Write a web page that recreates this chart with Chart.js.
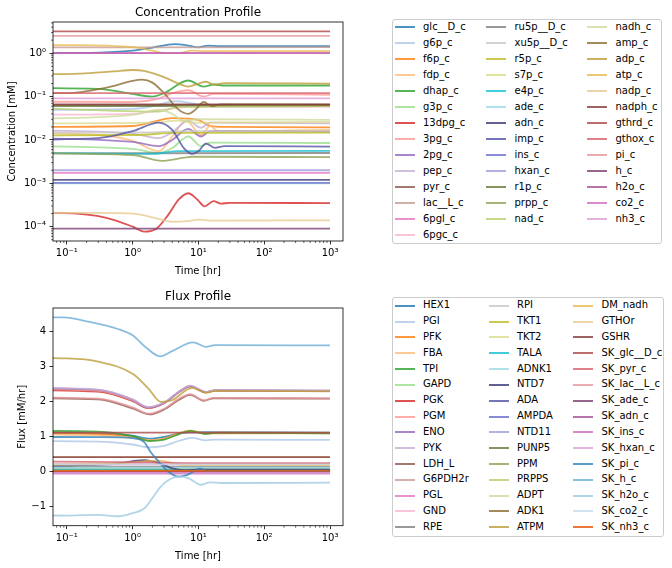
<!DOCTYPE html>
<html>
<head>
<meta charset="utf-8">
<script src="https://cdn.jsdelivr.net/npm/chart.js@4.4.1/dist/chart.umd.min.js"></script>
<style>
  body { margin: 0; background: #fff; font-family: 'DejaVu Sans', sans-serif; }
  #wrap { position: relative; width: 672px; height: 568px; overflow: hidden; }
  #wrap canvas { position: absolute; left: 0; }
  .legend { position: absolute; border: 1px solid #cccccc; border-radius: 3px; box-sizing: border-box; background: #fff; }
  .legend .h { position: absolute; width: 20px; height: 2px; }
  .legend .t { position: absolute; font-size: 10px; line-height: 12px; white-space: nowrap; color: #000; }
</style>
</head>
<body>
<div id="wrap">
  <canvas id="conc" width="350" height="285" style="top:0"></canvas>
  <canvas id="flux" width="350" height="283" style="top:285px"></canvas>
  <div id="concLegend" class="legend" style="left:392px;top:19px;width:270px;height:225px"></div>
  <div id="fluxLegend" class="legend" style="left:392px;top:297px;width:272px;height:240px"></div>
</div>
<script>
// time axis ticks (hours)
const timeTicks = [0.1, 1, 10, 100, 1000];
const timeTickLabels = ['10⁻¹', '10⁰', '10¹', '10²', '10³'];
const concTicks = [1e-4, 1e-3, 1e-2, 1e-1, 1];
const concTickLabels = ['10⁻⁴', '10⁻³', '10⁻²', '10⁻¹', '10⁰'];
const fluxTicks = [-1, 0, 1, 2, 3, 4];
const fluxTickLabels = ['−1', '0', '1', '2', '3', '4'];

// concentration profile, [time, mM]
const concNames = ['glc__D_c', 'g6p_c', 'f6p_c', 'fdp_c', 'dhap_c', 'g3p_c', '13dpg_c', '3pg_c', '2pg_c', 'pep_c',
  'pyr_c', 'lac__L_c', '6pgl_c', '6pgc_c', 'ru5p__D_c', 'xu5p__D_c', 'r5p_c', 's7p_c', 'e4p_c', 'ade_c',
  'adn_c', 'imp_c', 'ins_c', 'hxan_c', 'r1p_c', 'prpp_c', 'nad_c', 'nadh_c', 'amp_c', 'adp_c',
  'atp_c', 'nadp_c', 'nadph_c', 'gthrd_c', 'gthox_c', 'pi_c', 'h_c', 'h2o_c', 'co2_c', 'nh3_c'];
const concValues = [
  [[0.01,1.0],[0.1,1.0],[0.3,1.03],[1,1.15],[2,1.35],[4.3,1.62],[7,1.5],[10,1.37],[14,1.5],[20,1.45],[1000,1.45]],
  [[0.01,0.049],[1,0.052],[2,0.06],[4.5,0.078],[8,0.07],[12,0.063],[1000,0.064]],
  [[0.01,0.0198],[1,0.021],[2,0.026],[4,0.032],[7,0.031],[10,0.029],[14,0.022],[20,0.02],[1000,0.0195]],
  [[0.01,0.0146],[0.3,0.013],[1,0.0095],[2.5,0.0055],[4,0.012],[6.5,0.028],[11,0.013],[15,0.021],[20,0.016],[1000,0.017]],
  [[0.01,0.16],[0.3,0.15],[1,0.115],[2,0.1],[3,0.12],[7,0.235],[12,0.17],[17,0.19],[25,0.18],[1000,0.18]],
  [[0.01,0.0073],[1,0.0062],[2.5,0.005],[4,0.0065],[7,0.012],[11,0.0072],[15,0.0087],[1000,0.0085]],
  [[0.01,2.1e-4],[0.1,2.05e-4],[0.4,1.6e-4],[1,1.0e-4],[1.5,7.7e-5],[2.3,9e-5],[3.5,1.9e-4],[5,4.2e-4],[7,5.9e-4],[9.5,4.3e-4],[12.5,2.95e-4],[17,3.9e-4],[22,3.4e-4],[30,3.55e-4],[1000,3.5e-4]],
  [[0.01,0.077],[1,0.075],[2.5,0.09],[4,0.12],[7,0.14],[12,0.1],[17,0.115],[1000,0.11]],
  [[0.01,0.0113],[1,0.009],[2.5,0.0072],[4,0.01],[7,0.018],[11,0.012],[15,0.016],[1000,0.0155]],
  [[0.01,0.017],[1,0.014],[2.5,0.011],[4,0.015],[7,0.028],[11,0.019],[15,0.025],[1000,0.024]],
  [[0.01,0.063],[1000,0.065]],
  [[0.01,1.36],[1000,1.38]],
  [[0.01,0.00175],[1000,0.00175]],
  [[0.01,0.038],[1,0.04],[3,0.05],[7,0.058],[1000,0.058]],
  [[0.01,0.0049],[1000,0.005]],
  [[0.01,0.0148],[2,0.015],[6,0.016],[1000,0.016]],
  [[0.01,0.0127],[1,0.013],[5,0.0145],[1000,0.0147]],
  [[0.01,0.024],[2,0.025],[5,0.028],[8,0.025],[1000,0.026]],
  [[0.01,0.0051],[2,0.0048],[5,0.0055],[1000,0.0056]],
  [[0.01,0.001],[1000,0.001]],
  [[0.01,0.0012],[1000,0.0012]],
  [[0.01,0.01],[0.3,0.011],[1,0.016],[2.5,0.025],[4,0.017],[6,0.0065],[8,0.0048],[10,0.0055],[13,0.0082],[18,0.0066],[25,0.0072],[1000,0.007]],
  [[0.01,0.00102],[1000,0.00102]],
  [[0.01,0.002],[1000,0.002]],
  [[0.01,0.06],[1000,0.061]],
  [[0.01,0.005],[1,0.0045],[2.8,0.0033],[6,0.0039],[8,0.0041],[1000,0.004]],
  [[0.01,0.059],[2.5,0.045],[5,0.058],[1000,0.06]],
  [[0.01,0.03],[1,0.038],[2.5,0.05],[4,0.04],[6,0.028],[10,0.03],[1000,0.029]],
  [[0.01,0.12],[0.1,0.12],[0.4,0.16],[1,0.23],[1.4,0.245],[2,0.21],[3,0.12],[5,0.05],[7,0.04],[9,0.05],[12,0.075],[16,0.06],[22,0.066],[1000,0.064]],
  [[0.01,0.33],[0.1,0.33],[0.5,0.38],[1,0.41],[1.5,0.39],[3,0.28],[5,0.2],[7,0.17],[10,0.2],[13,0.22],[17,0.19],[25,0.205],[1000,0.2]],
  [[0.01,1.55],[0.1,1.54],[1,1.38],[2,1.15],[3,1.02],[5,1.0],[8,1.15],[12,1.12],[1000,1.12]],
  [[0.01,2.1e-4],[0.3,2.08e-4],[1,2.0e-4],[2,1.65e-4],[4,1.3e-4],[7,1.35e-4],[10,1.45e-4],[15,1.38e-4],[1000,1.4e-4]],
  [[0.01,0.066],[1000,0.066]],
  [[0.01,3.2],[1000,3.2]],
  [[0.01,0.12],[1000,0.12]],
  [[0.01,2.5],[1000,2.5]],
  [[0.01,9e-5],[1000,9e-5]],
  [[0.01,1.0],[1000,1.0]],
  [[0.01,1.0],[1000,1.0]],
  [[0.01,0.091],[1000,0.091]]
];

// flux profile, [time, mM/hr]
const fluxNames = ['HEX1', 'PGI', 'PFK', 'FBA', 'TPI', 'GAPD', 'PGK', 'PGM', 'ENO', 'PYK',
  'LDH_L', 'G6PDH2r', 'PGL', 'GND', 'RPE', 'RPI', 'TKT1', 'TKT2', 'TALA', 'ADNK1',
  'NTD7', 'ADA', 'AMPDA', 'NTD11', 'PUNP5', 'PPM', 'PRPPS', 'ADPT', 'ADK1', 'ATPM',
  'DM_nadh', 'GTHOr', 'GSHR', 'SK_glc__D_c', 'SK_pyr_c', 'SK_lac__L_c', 'SK_ade_c', 'SK_adn_c', 'SK_ins_c', 'SK_hxan_c',
  'SK_pi_c', 'SK_h_c', 'SK_h2o_c', 'SK_co2_c', 'SK_nh3_c'];
const fluxValues = [
  [[0.01,1.12],[0.3,1.1],[1,1.03],[1.8,0.95],[3,1.0],[7,1.13],[1000,1.12]],
  [[0.01,0.88],[0.3,0.86],[1,0.78],[1.8,0.7],[3,0.74],[5,0.88],[8,0.97],[13,0.9],[18,0.92],[1000,0.91]],
  [[0.01,1.1],[0.3,1.08],[1,1.0],[1.8,0.9],[3,0.95],[5,1.1],[7.5,1.17],[13,1.1],[18,1.12],[1000,1.11]],
  [[0.01,1.08],[1,0.98],[1.8,0.9],[3,0.93],[5,1.08],[7.5,1.18],[13,1.09],[1000,1.1]],
  [[0.01,1.17],[0.3,1.15],[1,1.02],[1.8,0.88],[3,0.92],[5,1.07],[7.5,1.17],[13,1.08],[18,1.11],[1000,1.1]],
  [[0.01,2.35],[0.3,2.3],[1,2.03],[1.7,1.82],[3,1.96],[5,2.27],[7.5,2.44],[13,2.27],[18,2.32],[1000,2.31]],
  [[0.01,2.34],[0.3,2.29],[1,2.02],[1.7,1.82],[3,1.96],[5,2.27],[7.5,2.44],[13,2.27],[18,2.32],[1000,2.31]],
  [[0.01,2.37],[0.3,2.31],[1,2.04],[1.7,1.83],[3,1.96],[5,2.27],[7.5,2.44],[13,2.27],[18,2.32],[1000,2.31]],
  [[0.01,2.4],[0.3,2.34],[1,2.06],[1.7,1.84],[3,1.97],[5,2.28],[7.5,2.45],[13,2.28],[18,2.33],[1000,2.32]],
  [[0.01,2.41],[0.3,2.35],[1,2.07],[1.7,1.85],[3,1.98],[5,2.29],[7.5,2.46],[13,2.28],[18,2.33],[1000,2.32]],
  [[0.01,2.11],[0.3,2.07],[1,1.81],[1.8,1.64],[3,1.78],[5,2.05],[7.5,2.2],[12,2.03],[17,2.1],[1000,2.09]],
  [[0.01,0.21],[1000,0.21]],
  [[0.01,0.21],[1000,0.21]],
  [[0.01,0.21],[1000,0.21]],
  [[0.01,0.14],[1000,0.14]],
  [[0.01,0.07],[1000,0.07]],
  [[0.01,0.07],[1000,0.07]],
  [[0.01,0.07],[1000,0.07]],
  [[0.01,0.07],[1000,0.07]],
  [[0.01,0.12],[1000,0.12]],
  [[0.01,0.17],[0.5,0.22],[1.5,0.33],[2.5,0.25],[4,0.1],[6,0.05],[10,0.06],[1000,0.06]],
  [[0.01,0.01],[1000,0.01]],
  [[0.01,0.014],[1000,0.014]],
  [[0.01,0.014],[1000,0.014]],
  [[0.01,0.014],[1000,0.014]],
  [[0.01,0.014],[1000,0.014]],
  [[0.01,0.014],[1000,0.014]],
  [[0.01,0.014],[1000,0.014]],
  [[0.01,0.0],[1000,0.0]],
  [[0.01,3.26],[0.1,3.24],[0.3,3.15],[1,2.8],[1.7,2.4],[2.7,2.0],[4,2.05],[8,2.4],[13,2.26],[18,2.31],[1000,2.3]],
  [[0.01,0.2],[0.5,0.23],[1.5,0.3],[2.5,0.32],[4,0.25],[6,0.19],[10,0.2],[1000,0.19]],
  [[0.01,0.42],[1000,0.42]],
  [[0.01,0.42],[1000,0.42]],
  [[0.01,1.12],[1000,1.12]],
  [[0.01,0.3],[2,0.27],[7,0.25],[1000,0.25]],
  [[0.01,2.13],[0.3,2.09],[1,1.84],[1.8,1.66],[3,1.8],[5,2.08],[7.5,2.22],[12,2.04],[17,2.11],[1000,2.1]],
  [[0.01,-0.014],[1000,-0.014]],
  [[0.01,-0.01],[1000,-0.01]],
  [[0.01,-0.05],[1000,-0.05]],
  [[0.01,-0.03],[1000,-0.03]],
  [[0.01,1.0],[0.3,0.99],[1,0.96],[1.5,0.85],[1.9,0.55],[2.6,0.25],[3.5,0.0],[5,-0.14],[7,-0.08],[10.5,0.09],[14,0.02],[20,0.03],[1000,0.03]],
  [[0.01,4.41],[0.09,4.41],[0.2,4.3],[0.6,4.08],[1,3.9],[1.6,3.55],[2.6,3.3],[4,3.45],[8.3,3.7],[13,3.57],[18,3.62],[1000,3.61]],
  [[0.01,-1.24],[0.1,-1.25],[0.3,-1.23],[0.6,-1.27],[1,-1.18],[1.5,-1.05],[2,-0.75],[2.6,-0.45],[3.3,-0.27],[5,-0.14],[7,-0.18],[11,-0.37],[15,-0.3],[22,-0.32],[1000,-0.31]],
  [[0.01,0.21],[1000,0.21]],
  [[0.01,0.03],[1000,0.03]]
];

const tab20 = ['#1f77b4','#aec7e8','#ff7f0e','#ffbb78','#2ca02c','#98df8a','#d62728','#ff9896','#9467bd','#c5b0d5',
  '#8c564b','#c49c94','#e377c2','#f7b6d2','#7f7f7f','#c7c7c7','#bcbd22','#dbdb8d','#17becf','#9edae5'];
const tab20b = ['#393b79','#5254a3','#6b6ecf','#9c9ede','#637939','#8ca252','#b5cf6b','#cedb9c','#8c6d31','#bd9e39',
  '#e7ba52','#e7cb94','#843c39','#ad494a','#d6616b','#e7969c','#7b4173','#a55194','#ce6dbd','#de9ed6'];
const tab20c = ['#3182bd','#6baed6','#9ecae1','#c6dbef','#e6550d','#fd8d3c','#fdae6b','#fdd0a2'];
const palette = tab20.concat(tab20b, tab20c);

function withAlpha(hex, a) {
  const n = parseInt(hex.slice(1), 16);
  return 'rgba(' + (n >> 16) + ',' + ((n >> 8) & 255) + ',' + (n & 255) + ',' + a + ')';
}

Chart.defaults.font.family = "'DejaVu Sans', sans-serif";
Chart.defaults.font.size = 10;
Chart.defaults.color = '#000';

// black frame round the axes plus short minor ticks on log axes
const framePlugin = {
  id: 'frame',
  afterDraw(chart) {
    const { ctx, chartArea: a, scales } = chart;
    ctx.save();
    ctx.strokeStyle = '#000';
    ctx.lineWidth = 0.8;
    ctx.strokeRect(a.left, a.top, a.right - a.left, a.bottom - a.top);
    ctx.lineWidth = 0.6;
    ['x', 'y'].forEach(id => {
      const s = scales[id];
      if (s.type !== 'logarithmic') return;
      for (let e = Math.floor(Math.log10(s.min)); e <= Math.ceil(Math.log10(s.max)); e++) {
        for (let d = 2; d <= 9; d++) {
          const v = d * Math.pow(10, e);
          if (v < s.min || v > s.max) continue;
          const p = s.getPixelForValue(v);
          ctx.beginPath();
          if (id === 'x') { ctx.moveTo(p, a.bottom); ctx.lineTo(p, a.bottom + 2); }
          else { ctx.moveTo(a.left, p); ctx.lineTo(a.left - 2, p); }
          ctx.stroke();
        }
      }
    });
    ctx.restore();
  }
};

function makeDatasets(names, values) {
  return names.map((name, i) => ({
    label: name,
    data: values[i].map(p => ({ x: p[0], y: p[1] })),
    borderColor: withAlpha(palette[i], 0.8),
    backgroundColor: withAlpha(palette[i], 0.8),
    borderWidth: 1.8,
    pointRadius: 0,
    fill: false,
    cubicInterpolationMode: 'monotone',
    order: names.length - i
  }));
}

function axisGrid() {
  return { display: true, drawOnChartArea: false, drawTicks: true, tickLength: 3.5, tickColor: '#000', tickWidth: 0.8 };
}

function makeChart(id, cfg) {
  return new Chart(document.getElementById(id), {
    type: 'line',
    data: { datasets: makeDatasets(cfg.names, cfg.values) },
    options: {
      responsive: false,
      animation: false,
      devicePixelRatio: 1,
      layout: { padding: { left: 0, right: 7, top: 0, bottom: 0 } },
      plugins: {
        legend: { display: false },
        tooltip: { enabled: false },
        title: {
          display: true, text: cfg.title, fullSize: false, color: '#000',
          font: { size: 12, weight: 'normal' }, padding: cfg.titlePad
        }
      },
      scales: {
        x: {
          type: 'logarithmic', min: Math.pow(10, -1.21), max: Math.pow(10, 3.197),
          afterBuildTicks: s => { s.ticks = timeTicks.map(v => ({ value: v })); },
          afterFit: s => { s.height = cfg.xHeight; },
          ticks: { autoSkip: false, maxRotation: 0, padding: 3, color: '#000',
            callback: (v, i) => timeTickLabels[i] },
          grid: axisGrid(),
          border: { display: false },
          title: { display: true, text: 'Time [hr]', color: '#000', padding: { top: 0, bottom: cfg.xTitlePad } }
        },
        y: {
          type: cfg.yType, min: cfg.yMin, max: cfg.yMax,
          afterBuildTicks: s => { s.ticks = cfg.yTicks.map(v => ({ value: v })); },
          afterFit: s => { s.width = 53; },
          ticks: { autoSkip: false, padding: 3.5, color: '#000',
            callback: (v, i) => cfg.yTickLabels[i] },
          grid: axisGrid(),
          border: { display: false },
          title: { display: true, text: cfg.yTitle, color: '#000', padding: { top: cfg.yTitlePad, bottom: 0 } }
        }
      }
    },
    plugins: [framePlugin]
  });
}

const concChart = makeChart('conc', {
  names: concNames, values: concValues, title: 'Concentration Profile',
  titlePad: { top: 5.5, bottom: 2.1 }, xHeight: 44, xTitlePad: 8,
  yType: 'logarithmic', yMin: Math.pow(10, -4.33), yMax: Math.pow(10, 0.72),
  yTicks: concTicks, yTickLabels: concTickLabels, yTitle: 'Concentration [mM]', yTitlePad: 6.3
});

const fluxChart = makeChart('flux', {
  names: fluxNames, values: fluxValues, title: 'Flux Profile',
  titlePad: { top: 5.1, bottom: 3.5 }, xHeight: 42.3, xTitlePad: 5.3,
  yType: 'linear', yMin: -1.54, yMax: 4.68,
  yTicks: fluxTicks, yTickLabels: fluxTickLabels, yTitle: 'Flux [mM/hr]', yTitlePad: 16.3
});

// matplotlib-style legend, 3 columns filled top to bottom
function buildLegend(chart, boxId, colX, firstY, pitch) {
  const box = document.getElementById(boxId);
  const items = chart.data.datasets;
  const base = Math.floor(items.length / 3), extra = items.length % 3;
  let k = 0;
  for (let c = 0; c < 3; c++) {
    const rows = base + (c < extra ? 1 : 0);
    for (let r = 0; r < rows; r++, k++) {
      const cy = firstY + r * pitch;
      const h = document.createElement('span');
      h.className = 'h';
      h.style.left = colX[c] + 'px';
      h.style.top = (cy - 1) + 'px';
      h.style.background = items[k].borderColor;
      const t = document.createElement('span');
      t.className = 't';
      t.style.left = (colX[c] + 28.5) + 'px';
      t.style.top = (cy - 6.5) + 'px';
      t.textContent = items[k].label;
      box.appendChild(h);
      box.appendChild(t);
    }
  }
}

buildLegend(concChart, 'concLegend', [1.5, 93, 194], 7.3, 16);
buildLegend(fluxChart, 'fluxLegend', [1.5, 95.5, 180], 7.7, 15.83);
</script>
</body>
</html>
